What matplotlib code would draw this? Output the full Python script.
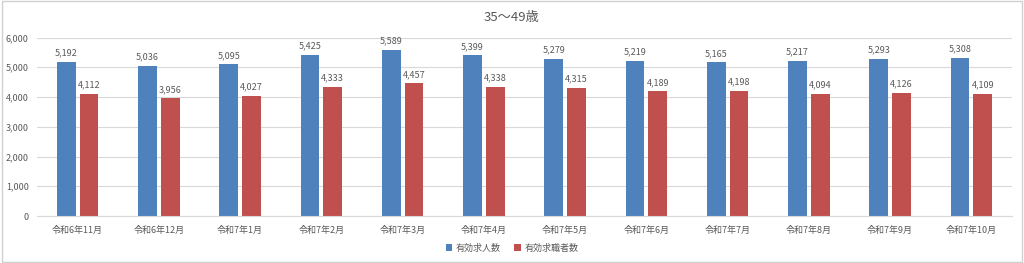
import numpy as np
import matplotlib.pyplot as plt
from matplotlib.patches import Rectangle

plt.rcParams['font.family'] = ['Noto Sans CJK JP', 'DejaVu Sans']

# data
months = ["令和6年11月", "令和6年12月", "令和7年1月", "令和7年2月", "令和7年3月", "令和7年4月",
          "令和7年5月", "令和7年6月", "令和7年7月", "令和7年8月", "令和7年9月", "令和7年10月"]
job_offers = [5192, 5036, 5095, 5425, 5589, 5399, 5279, 5219, 5165, 5217, 5293, 5308]
job_seekers = [4112, 3956, 4027, 4333, 4457, 4338, 4315, 4189, 4198, 4094, 4126, 4109]

blue = "#4F81BD"
red = "#C0504D"
text_col = "#595959"

fig = plt.figure(figsize=(10.24, 2.63), dpi=100)
ax = fig.add_axes([37 / 1024, 1 - 216 / 263, (1012 - 37) / 1024, (216 - 37.5) / 263])

x = np.arange(len(months))
w = 0.23
off = 0.14
b1 = ax.bar(x - off, job_offers, w, color=blue, label="有効求人数")
b2 = ax.bar(x + off, job_seekers, w, color=red, label="有効求職者数")

for bars in (b1, b2):
    for r in bars:
        ax.text(r.get_x() + r.get_width() / 2, r.get_height() + 150, f"{int(r.get_height()):,}",
                ha="center", va="bottom", fontsize=6.5, color=text_col)

ax.set_xlim(-0.5, len(months) - 0.5)
ax.set_ylim(0, 6000)
ax.set_yticks(range(0, 6001, 1000))
ax.set_yticklabels([f"{v:,}" for v in range(0, 6001, 1000)])
ax.set_xticks(x)
ax.set_xticklabels(months)
ax.tick_params(axis="both", length=0, labelsize=6.5, colors=text_col)
ax.tick_params(axis="x", pad=7)
ax.tick_params(axis="y", pad=6)
ax.yaxis.grid(True, color="#D9D9D9", linewidth=0.8)
ax.set_axisbelow(True)
for s in ["top", "right", "left"]:
    ax.spines[s].set_visible(False)
ax.spines["bottom"].set_color("#D9D9D9")

fig.text(0.5, 1 - 18 / 263, "35〜49歳", ha="center", va="center", fontsize=9.5, color=text_col)

fig.legend(loc="center", bbox_to_anchor=(0.5, 1 - 248 / 263), ncol=2, frameon=False,
           fontsize=6.5, labelcolor=text_col, handlelength=0.7, handleheight=0.7,
           handletextpad=0.4, columnspacing=1.5)

fig.patches.append(Rectangle((0.002, 0.004), 0.996, 0.992, transform=fig.transFigure,
                             fill=False, edgecolor="#D0D0D0", linewidth=1))

fig.savefig("out.png", dpi=100)
